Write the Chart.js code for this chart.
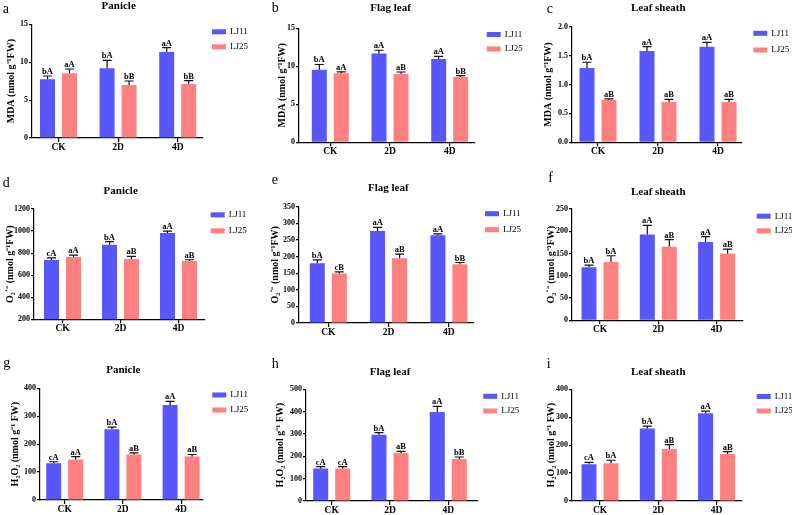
<!DOCTYPE html>
<html>
<head>
<meta charset="utf-8">
<script src="https://cdn.jsdelivr.net/npm/chart.js@4"></script>
<style>
html, body { margin: 0; padding: 0; background: #fff; }
#wrap { position: relative; width: 792px; height: 515px; overflow: hidden; }
#wrap canvas { position: absolute; left: 0; top: 0; }
</style>
</head>
<body>
<div id="wrap"></div>
<script>
const groups = ['CK', '2D', '4D'];
const lines = ['LJ11', 'LJ25'];

// MDA (nmol g-1 FW)
const mdaPanicle11 = [7.74, 9.2, 11.35];
const mdaPanicle11Err = [0.44, 1.05, 0.57];
const mdaPanicle11Sig = ['bA', 'bA', 'aA'];
const mdaPanicle25 = [8.53, 7.0, 7.13];
const mdaPanicle25Err = [0.57, 0.52, 0.44];
const mdaPanicle25Sig = ['aA', 'bB', 'bB'];

const mdaFlag11 = [9.56, 11.67, 10.96];
const mdaFlag11Err = [0.68, 0.44, 0.35];
const mdaFlag11Sig = ['bA', 'aA', 'aA'];
const mdaFlag25 = [9.08, 8.99, 8.6];
const mdaFlag25Err = [0.18, 0.26, 0.18];
const mdaFlag25Sig = ['aA', 'aB', 'bB'];

const mdaSheath11 = [1.285, 1.58, 1.655];
const mdaSheath11Err = [0.1, 0.075, 0.075];
const mdaSheath11Sig = ['bA', 'aA', 'aA'];
const mdaSheath25 = [0.732, 0.697, 0.697];
const mdaSheath25Err = [0.018, 0.045, 0.045];
const mdaSheath25Sig = ['aB', 'aB', 'aB'];

// O2.- (nmol g-1 FW)
const o2Panicle11 = [737, 875, 982];
const o2Panicle11Err = [20, 30, 17];
const o2Panicle11Sig = ['cA', 'bA', 'aA'];
const o2Panicle25 = [764, 746, 728];
const o2Panicle25Err = [18, 24, 12];
const o2Panicle25Sig = ['aA', 'aB', 'aB'];

const o2Flag11 = [180, 277, 264];
const o2Flag11Err = [10, 11, 4];
const o2Flag11Sig = ['bA', 'aA', 'aA'];
const o2Flag25 = [149, 195, 177];
const o2Flag25Err = [5, 12, 5];
const o2Flag25Sig = ['cB', 'aB', 'bB'];

const o2Sheath11 = [119, 193, 176];
const o2Sheath11Err = [5, 20, 12];
const o2Sheath11Sig = ['bA', 'aA', 'aA'];
const o2Sheath25 = [131, 165, 150];
const o2Sheath25Err = [14, 16, 10];
const o2Sheath25Sig = ['bA', 'aB', 'aB'];

// H2O2 (nmol g-1 FW)
const h2o2Panicle11 = [132, 253, 340];
const h2o2Panicle11Err = [5, 8, 13];
const h2o2Panicle11Sig = ['cA', 'bA', 'aA'];
const h2o2Panicle25 = [145, 163, 156];
const h2o2Panicle25Err = [10, 6, 7];
const h2o2Panicle25Sig = ['aA', 'aB', 'aB'];

const h2o2Flag11 = [145, 296, 398];
const h2o2Flag11Err = [9, 10, 26];
const h2o2Flag11Sig = ['cA', 'bA', 'aA'];
const h2o2Flag25 = [145, 215, 188];
const h2o2Flag25Err = [9, 7, 9];
const h2o2Flag25Sig = ['cA', 'aB', 'bB'];

const h2o2Sheath11 = [132, 260, 314];
const h2o2Sheath11Err = [6, 8, 8];
const h2o2Sheath11Sig = ['cA', 'bA', 'aA'];
const h2o2Sheath25 = [135, 186, 168];
const h2o2Sheath25Err = [11, 16, 9];
const h2o2Sheath25Sig = ['bA', 'aB', 'aB'];

const mdaLabel = 'MDA (nmol g\u207B\u00B9FW)';
const o2Label = 'O\u2082\u02D9\u207B (nmol g\u207B\u00B9FW)';
const h2o2Label = 'H\u2082O\u2082 (nmol g\u207B\u00B9 FW)';

const BLUE = '#5757FB';
const RED = '#FF8080';
const SERIF = "'Liberation Serif', 'Times New Roman', serif";

Chart.defaults.font.family = SERIF;
Chart.defaults.color = '#000';

// x0/x1 axis ends, c0/sp first group centre and spacing, top/bot plot edges,
// ytx y-title centre, tx/ty panel title, lx/ly panel letter, gx/gy1/gy2 legend
const panels = [
  { letter: 'a', title: 'Panicle', ylab: mdaLabel, min: 0, max: 15, step: 5, dec: 0,
    v1: mdaPanicle11, e1: mdaPanicle11Err, s1: mdaPanicle11Sig, v2: mdaPanicle25, e2: mdaPanicle25Err, s2: mdaPanicle25Sig,
    box: { x0: 32, x1: 203, c0: 58.5, sp: 59.6, top: 24.3, bot: 138, ytx: 11.7, tx: 118.7, ty: 6, lx: 2.7, ly: 9, gx: 212, gy1: 31.8, gy2: 46.8 } },
  { letter: 'b', title: 'Flag leaf', ylab: mdaLabel, min: 0, max: 15, step: 5, dec: 0,
    v1: mdaFlag11, e1: mdaFlag11Err, s1: mdaFlag11Sig, v2: mdaFlag25, e2: mdaFlag25Err, s2: mdaFlag25Sig,
    box: { x0: 299, x1: 475, c0: 330.3, sp: 59.7, top: 28.3, bot: 142.3, ytx: 282, tx: 390.5, ty: 8.6, lx: 271.7, ly: 8.3, gx: 486.7, gy1: 34.5, gy2: 49 } },
  { letter: 'c', title: 'Leaf sheath', ylab: mdaLabel, min: 0, max: 2, step: 0.5, dec: 1,
    v1: mdaSheath11, e1: mdaSheath11Err, s1: mdaSheath11Sig, v2: mdaSheath25, e2: mdaSheath25Err, s2: mdaSheath25Sig,
    box: { x0: 572, x1: 742, c0: 598, sp: 60, top: 26.7, bot: 142.3, ytx: 548.3, tx: 658.3, ty: 8.3, lx: 546.7, ly: 9, gx: 753.3, gy1: 33.3, gy2: 50 } },
  { letter: 'd', title: 'Panicle', ylab: o2Label, min: 200, max: 1200, step: 200, dec: 0,
    v1: o2Panicle11, e1: o2Panicle11Err, s1: o2Panicle11Sig, v2: o2Panicle25, e2: o2Panicle25Err, s2: o2Panicle25Sig,
    box: { x0: 34, x1: 205, c0: 62.5, sp: 58, top: 209, bot: 319.3, ytx: 10, tx: 120.7, ty: 190.7, lx: 2.7, ly: 183.3, gx: 210.7, gy1: 214.8, gy2: 230.8 } },
  { letter: 'e', title: 'Flag leaf', ylab: o2Label, min: 0, max: 350, step: 50, dec: 0,
    v1: o2Flag11, e1: o2Flag11Err, s1: o2Flag11Sig, v2: o2Flag25, e2: o2Flag25Err, s2: o2Flag25Sig,
    box: { x0: 299, x1: 474, c0: 328.3, sp: 60.3, top: 206.7, bot: 323, ytx: 275, tx: 388.3, ty: 188.3, lx: 271.7, ly: 180, gx: 485, gy1: 213.7, gy2: 229.7 } },
  { letter: 'f', title: 'Leaf sheath', ylab: o2Label, min: 0, max: 250, step: 50, dec: 0,
    v1: o2Sheath11, e1: o2Sheath11Err, s1: o2Sheath11Sig, v2: o2Sheath25, e2: o2Sheath25Err, s2: o2Sheath25Sig,
    box: { x0: 572, x1: 743, c0: 600, sp: 58.3, top: 209, bot: 320.3, ytx: 551.7, tx: 658.3, ty: 191.7, lx: 548.3, ly: 178, gx: 756.7, gy1: 216.2, gy2: 230.8 } },
  { letter: 'g', title: 'Panicle', ylab: h2o2Label, min: 0, max: 400, step: 100, dec: 0,
    v1: h2o2Panicle11, e1: h2o2Panicle11Err, s1: h2o2Panicle11Sig, v2: h2o2Panicle25, e2: h2o2Panicle25Err, s2: h2o2Panicle25Sig,
    box: { x0: 40, x1: 203, c0: 64.7, sp: 58.2, top: 388.3, bot: 500, ytx: 15, tx: 123.3, ty: 370, lx: 3.3, ly: 363, gx: 212.3, gy1: 395, gy2: 410 } },
  { letter: 'h', title: 'Flag leaf', ylab: h2o2Label, min: 0, max: 500, step: 100, dec: 0,
    v1: h2o2Flag11, e1: h2o2Flag11Err, s1: h2o2Flag11Sig, v2: h2o2Flag25, e2: h2o2Flag25Err, s2: h2o2Flag25Sig,
    box: { x0: 306, x1: 478, c0: 331.7, sp: 58.3, top: 389.3, bot: 501, ytx: 280, tx: 390, ty: 371.7, lx: 271.7, ly: 364, gx: 483.3, gy1: 396.3, gy2: 411 } },
  { letter: 'i', title: 'Leaf sheath', ylab: h2o2Label, min: 0, max: 400, step: 100, dec: 0,
    v1: h2o2Sheath11, e1: h2o2Sheath11Err, s1: h2o2Sheath11Sig, v2: h2o2Sheath25, e2: h2o2Sheath25Err, s2: h2o2Sheath25Sig,
    box: { x0: 572, x1: 742, c0: 600, sp: 58.3, top: 389.3, bot: 501, ytx: 551.7, tx: 658.3, ty: 371.7, lx: 546.7, ly: 364, gx: 756.7, gy1: 396.5, gy2: 411 } }
];

// error bars, letters, panel title and legend
const decor = {
  id: 'panelDecor',
  afterDatasetsDraw(chart, args, opts) {
    const ctx = chart.ctx;
    const ys = chart.scales.y;
    const b = opts.box;
    ctx.save();
    chart.data.datasets.forEach((ds, di) => {
      const meta = chart.getDatasetMeta(di);
      meta.data.forEach((bar, i) => {
        const yt = ys.getPixelForValue(ds.data[i].y + ds.err[i]);
        ctx.strokeStyle = '#111';
        ctx.lineWidth = 1.2;
        ctx.beginPath();
        ctx.moveTo(bar.x, bar.y);
        ctx.lineTo(bar.x, yt);
        ctx.moveTo(bar.x - 4.5, yt);
        ctx.lineTo(bar.x + 4.5, yt);
        ctx.stroke();
        ctx.fillStyle = '#000';
        ctx.font = 'bold 8.5px ' + SERIF;
        ctx.textAlign = 'center';
        ctx.textBaseline = 'alphabetic';
        ctx.fillText(ds.sig[i], bar.x, yt - 2);
      });
    });

    ctx.fillStyle = '#000';
    ctx.textAlign = 'center';
    ctx.textBaseline = 'middle';
    ctx.font = 'bold 11px ' + SERIF;
    ctx.fillText(opts.title, b.tx, b.ty);

    ctx.textAlign = 'left';
    ctx.font = '14px ' + SERIF;
    ctx.fillText(opts.letter, b.lx, b.ly);

    ctx.font = '9px ' + SERIF;
    [b.gy1, b.gy2].forEach((gy, di) => {
      const ds = chart.data.datasets[di];
      ctx.fillStyle = ds.backgroundColor;
      ctx.fillRect(b.gx, gy - 2.5, 14, 5);
      ctx.fillStyle = '#000';
      ctx.fillText(ds.label, b.gx + 18, gy);
    });
    ctx.restore();
  }
};

function makeChart(p) {
  const cv = document.createElement('canvas');
  cv.width = 792;
  cv.height = 515;
  document.getElementById('wrap').appendChild(cv);
  const b = p.box;
  const W = b.x0 - (b.ytx - 6);
  const H = Math.min(17, 515 - b.bot);
  const xmin = -(b.c0 - b.x0) / b.sp;
  const xmax = (b.x1 - b.c0) / b.sp;
  const axisLine = { display: true, color: '#000', width: 1.2 };

  new Chart(cv, {
    type: 'bar',
    data: {
      datasets: [
        { label: lines[0], data: p.v1.map((v, i) => ({ x: i, y: v })), err: p.e1, sig: p.s1, backgroundColor: BLUE },
        { label: lines[1], data: p.v2.map((v, i) => ({ x: i, y: v })), err: p.e2, sig: p.s2, backgroundColor: RED }
      ]
    },
    options: {
      responsive: false,
      animation: false,
      events: [],
      layout: { padding: { left: b.ytx - 6, top: b.top, right: 792 - b.x1, bottom: 515 - b.bot - H } },
      datasets: { bar: { categoryPercentage: 44 / b.sp, barPercentage: 15 / 22 } },
      plugins: {
        legend: { display: false },
        tooltip: { enabled: false },
        panelDecor: { box: b, title: p.title, letter: p.letter }
      },
      scales: {
        x: {
          type: 'linear',
          offset: false,
          min: xmin,
          max: xmax,
          afterBuildTicks: s => { s.ticks = groups.map((g, i) => ({ value: i })); },
          afterFit: s => { s.height = H; },
          grid: { offset: false, drawOnChartArea: false, color: '#000', tickLength: 4, lineWidth: 1.2 },
          border: axisLine,
          ticks: {
            stepSize: 1, includeBounds: false, padding: 0, autoSkip: false, maxRotation: 0,
            font: { size: 9.5, weight: 'bold' }, color: '#000',
            callback: v => groups[Math.round(v)]
          }
        },
        y: {
          min: p.min,
          max: p.max,
          afterFit: s => { s.width = W; },
          grid: { drawOnChartArea: false, color: '#000', tickLength: 3, lineWidth: 1.2 },
          border: axisLine,
          ticks: {
            stepSize: p.step, padding: 1,
            font: { size: 8, weight: 'bold' }, color: '#000',
            callback: v => v.toFixed(p.dec)
          },
          title: { display: true, text: p.ylab, padding: 0, font: { size: 10, weight: 'bold' }, color: '#000' }
        }
      }
    },
    plugins: [decor]
  });
}

panels.forEach(makeChart);
</script>
</body>
</html>
